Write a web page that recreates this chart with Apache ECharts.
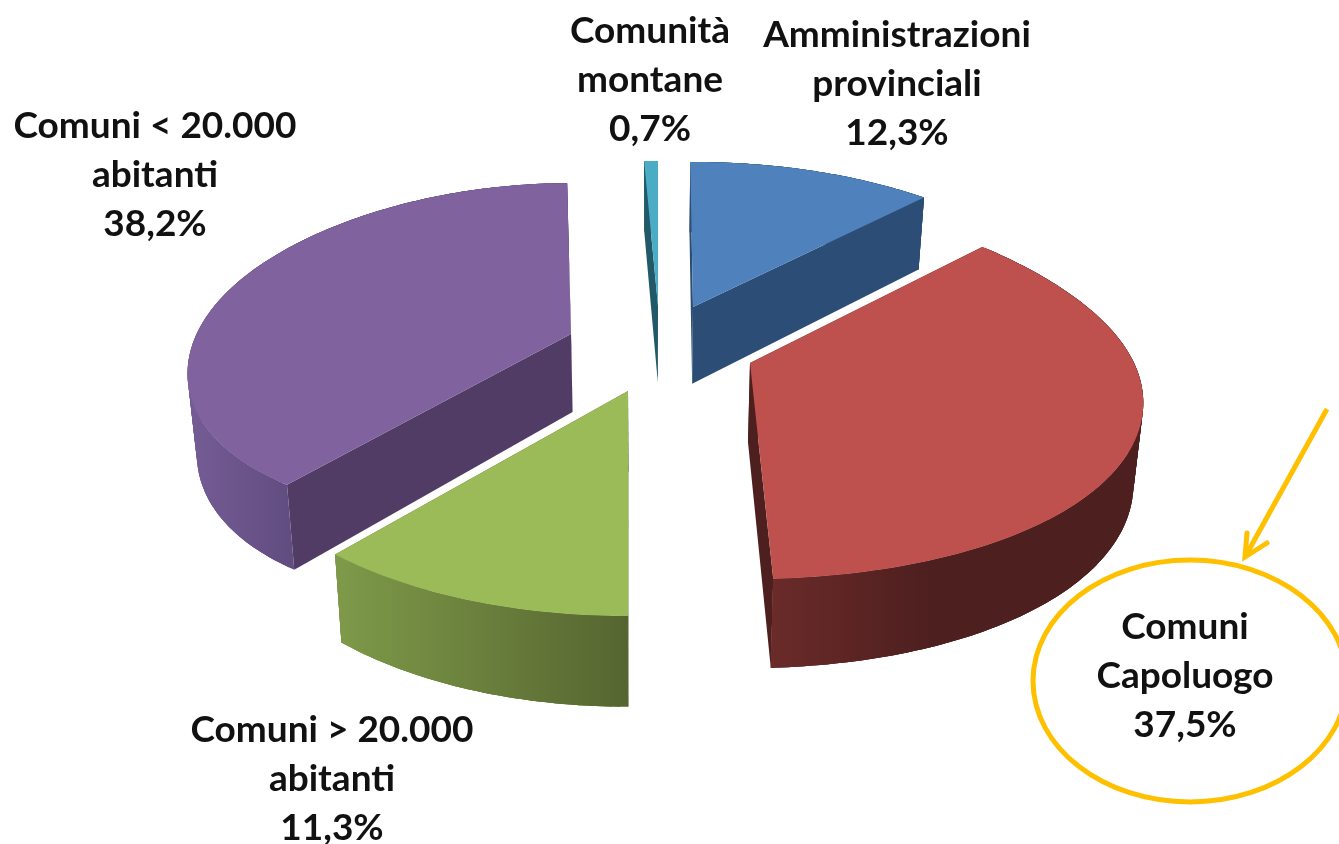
<!DOCTYPE html>
<html>
<head>
<meta charset="utf-8">
<style>html,body{margin:0;padding:0;background:#fff}#c{width:1339px;height:844px}</style>
<script src="https://cdn.jsdelivr.net/npm/echarts@6/dist/echarts.min.js"></script>
</head>
<body>
<div id="c"></div>
<script>
// Data
const categories = ['Amministrazioni\nprovinciali', 'Comuni\nCapoluogo', 'Comuni > 20.000\nabitanti', 'Comuni < 20.000\nabitanti', 'Comunità\nmontane'];
const shares = [12.3, 37.5, 11.3, 38.2, 0.7];

// Slice styling and explode layout
const pieCenter = [660, 345];
const explode = [[33, -38], [90, 18], [-32, 46], [-89, -11], [-2, -39]];
const frontScale = [1, 0.96, 1, 0.864, 1];
const backScale = [1, 1.12, 1, 1.04, 1];
const widthScale = [0.995, 1, 1, 0.975, 1];
const startTrim = [-0.5, 0, 0.7, -0.8, 0];
const endTrim = [0, -2, -0.5, 1.8, 0];
const topColors = ['#4F81BD', '#BE504D', '#9BBB59', '#7F629E', '#4BACC6'];
const sideColors = ['#2C4D75', '#4E1F1F', '#566530', '#513C66', '#215968'];
const rimStops = [
  [[0, '#2C4D75'], [1, '#2C4D75']],
  [[0, '#6A2B29'], [0.42, '#4E1F1F'], [1, '#4E1F1F']],
  [[0, '#7E9A49'], [1, '#566530']],
  [[0, '#755C95'], [0.3, '#5F4B7E'], [1, '#5F4B7E']],
  [[0, '#215968'], [1, '#215968']]
];
const labelAnchors = [[897, 84], [1185, 676], [332, 779], [155, 175], [650, 80]];

// Perspective projection of the pie disc
const RADIUS = 384, MINOR = 176.4, PERSP = 0.216;
function project(i, deg) {
  const t = deg * Math.PI / 180, s = Math.sin(t), c = Math.cos(t), w = 1 - PERSP * s;
  const scale = 1 - (1 - (s > 0 ? frontScale[i] : backScale[i])) * s * s;
  const X = widthScale[i] * RADIUS * c / w, Y = scale * MINOR * s / w;
  return [pieCenter[0] + explode[i][0] + X, pieCenter[1] + explode[i][1] + Y];
}
function lower(p) {
  return [p[0] - 0.02 * (p[0] - 650), p[1] + 72 + 0.045 * (p[1] - 200)];
}

function renderSlice(params, api) {
  const i = params.dataIndex;
  const total = shares.reduce((a, b) => a + b, 0);
  const before = shares.slice(0, i).reduce((a, b) => a + b, 0);
  const base = -90 + before / total * 360;
  const a0 = base + startTrim[i], a1 = base + api.value(0) / total * 360 + endTrim[i];
  const n = Math.max(2, Math.ceil(a1 - a0));
  const arc = [];
  for (let k = 0; k <= n; k++) arc.push(project(i, a0 + (a1 - a0) * k / n));
  const apex = [pieCenter[0] + explode[i][0], pieCenter[1] + explode[i][1]];
  const first = arc[0], last = arc[arc.length - 1];
  const poly = (points, fill) => ({ type: 'polygon', shape: { points }, style: { fill }, silent: true });
  const low = arc.map(lower);
  const xs = arc.concat(low).map(p => p[0]);
  const rim = new echarts.graphic.LinearGradient(
    Math.min.apply(null, xs), 0, Math.max.apply(null, xs), 0,
    rimStops[i].map(s => ({ offset: s[0], color: s[1] })), true);
  const rimQuads = [];
  for (let k = 0; k < n; k++) {
    const e = Math.min(n, k + 3);
    rimQuads.push(poly(arc.slice(k, e + 1).concat(low.slice(k, e + 1).reverse()), rim));
  }
  const label = categories[i] + '\n' + api.value(0).toFixed(1).replace('.', ',') + '%';
  return {
    type: 'group',
    children: [
      poly([apex, first, lower(first), lower(apex)], sideColors[i]),
      poly([apex, last, lower(last), lower(apex)], sideColors[i]),
      ...rimQuads,
      poly([apex].concat(arc), topColors[i]),
      {
        type: 'text', silent: true, x: labelAnchors[i][0], y: labelAnchors[i][1],
        style: {
          text: label, fill: '#111', align: 'center', verticalAlign: 'middle',
          font: 'bold 37px Lato', lineHeight: 49
        }
      }
    ]
  };
}

const chart = echarts.init(document.getElementById('c'), null, { renderer: 'canvas' });
chart.setOption({
  animation: false,
  backgroundColor: '#fff',
  series: [{
    type: 'custom',
    coordinateSystem: 'none',
    renderItem: renderSlice,
    encode: { value: 0 },
    data: shares.map(v => [v]),
    silent: true
  }],
  graphic: [
    { type: 'ellipse', shape: { cx: 1190, cy: 681, rx: 157, ry: 121 }, style: { fill: 'none', stroke: '#FFC000', lineWidth: 5 }, silent: true, z: 10 },
    { type: 'polyline', shape: { points: [[1327, 409], [1245, 557]] }, style: { fill: 'none', stroke: '#FFC000', lineWidth: 5, lineCap: 'butt' }, silent: true, z: 10 },
    { type: 'polyline', shape: { points: [[1247, 533], [1245, 557], [1267, 543]] }, style: { fill: 'none', stroke: '#FFC000', lineWidth: 5, lineCap: 'round', lineJoin: 'miter' }, silent: true, z: 10 }
  ]
});
</script>
</body>
</html>
